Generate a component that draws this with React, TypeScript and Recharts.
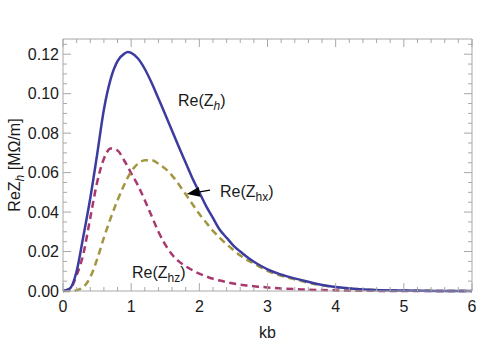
import { LineChart, Line, XAxis, YAxis, ReferenceDot, ReferenceLine } from "recharts";

// kb grid and the three curves
const kb = [
  0, 0.1, 0.2, 0.3, 0.4, 0.5, 0.6, 0.7, 0.8, 0.9, 0.95, 1.0, 1.1, 1.2, 1.3, 1.4, 1.5, 1.6, 1.7, 1.8, 1.9,
  2.0, 2.1, 2.2, 2.3, 2.4, 2.5, 2.6, 2.7, 2.8, 2.9, 3.0, 3.25, 3.5, 3.75, 4.0, 4.5, 5.0, 5.5, 6.0,
];
const reZh = [
  0, 0.0012, 0.01, 0.028, 0.047, 0.069, 0.092, 0.1075, 0.1165, 0.1203, 0.1211, 0.1207, 0.1178, 0.1125,
  0.1055, 0.0975, 0.0895, 0.0812, 0.073, 0.065, 0.057, 0.05, 0.043, 0.037, 0.031, 0.027, 0.023, 0.02,
  0.0172, 0.0148, 0.0128, 0.011, 0.0078, 0.0055, 0.0034, 0.002, 0.0006, 0.0002, 0.00005, 0,
];
const reZhx = [
  0, 0, 0.0004, 0.002, 0.007, 0.016, 0.027, 0.037, 0.046, 0.054, 0.0575, 0.0605, 0.0645, 0.0662, 0.0663,
  0.0645, 0.062, 0.0585, 0.054, 0.049, 0.044, 0.039, 0.0347, 0.0305, 0.027, 0.0237, 0.0208, 0.018, 0.0158,
  0.014, 0.012, 0.0102, 0.0072, 0.005, 0.0032, 0.0019, 0.0006, 0.0002, 0.00005, 0,
];
const reZhz = [
  0, 0.001, 0.008, 0.019, 0.037, 0.055, 0.067, 0.0722, 0.0712, 0.066, 0.063, 0.0596, 0.0535, 0.046, 0.038,
  0.03, 0.0235, 0.0185, 0.015, 0.0125, 0.0105, 0.0088, 0.0074, 0.0062, 0.0053, 0.0045, 0.0038, 0.0032,
  0.0028, 0.0024, 0.0021, 0.0018, 0.0012, 0.0008, 0.0005, 0.0003, 0.0001, 0, 0, 0,
];

const xMajorTicks = [0, 1, 2, 3, 4, 5, 6];
const xMinorTicks = [
  0, 0.2, 0.4, 0.6, 0.8, 1, 1.2, 1.4, 1.6, 1.8, 2, 2.2, 2.4, 2.6, 2.8, 3, 3.2, 3.4, 3.6, 3.8, 4, 4.2, 4.4,
  4.6, 4.8, 5, 5.2, 5.4, 5.6, 5.8, 6,
];
const yMajorTicks = [0, 0.02, 0.04, 0.06, 0.08, 0.1, 0.12];
const yMinorTicks = [
  0, 0.005, 0.01, 0.015, 0.02, 0.025, 0.03, 0.035, 0.04, 0.045, 0.05, 0.055, 0.06, 0.065, 0.07, 0.075,
  0.08, 0.085, 0.09, 0.095, 0.1, 0.105, 0.11, 0.115, 0.12, 0.125,
];

const data = kb.map((k, i) => ({ kb: k, zh: reZh[i], zhx: reZhx[i], zhz: reZhz[i] }));

const FONT = "'Liberation Sans', Arial, sans-serif";
const FRAME = "#a8a8a8";
const TEXT = "#1a1a1a";

const isMajor = (v: number, majors: number[]) => majors.some((m) => Math.abs(m - v) < 1e-9);

function BottomTick({ x, y, payload }: any) {
  const major = isMajor(payload.value, xMajorTicks);
  return (
    <g>
      <line x1={x} x2={x} y1={y} y2={y - (major ? 8 : 4)} stroke={FRAME} />
      {major && (
        <text x={x} y={y + 21} textAnchor="middle" fontSize={16} fill={TEXT} fontFamily={FONT}>
          {payload.value}
        </text>
      )}
    </g>
  );
}

function TopTick({ x, y, payload }: any) {
  const major = isMajor(payload.value, xMajorTicks);
  return <line x1={x} x2={x} y1={y} y2={y + (major ? 8 : 4)} stroke={FRAME} />;
}

function LeftTick({ x, y, payload }: any) {
  const major = isMajor(payload.value, yMajorTicks);
  return (
    <g>
      <line x1={x} x2={x + (major ? 8 : 4)} y1={y} y2={y} stroke={FRAME} />
      {major && (
        <text x={x - 4} y={y} dy="0.36em" textAnchor="end" fontSize={16} fill={TEXT} fontFamily={FONT}>
          {payload.value.toFixed(2)}
        </text>
      )}
    </g>
  );
}

function RightTick({ x, y, payload }: any) {
  const major = isMajor(payload.value, yMajorTicks);
  return <line x1={x} x2={x - (major ? 8 : 4)} y1={y} y2={y} stroke={FRAME} />;
}

function curveLabel(name: string, sub: string, italic: boolean) {
  return (p: any) => (
    <text x={p.cx} y={p.cy} fontSize={16} fill={TEXT} fontFamily={FONT}>
      {name}
      <tspan fontSize={12} dy={4} fontStyle={italic ? "italic" : "normal"}>
        {sub}
      </tspan>
      <tspan dy={-4}>)</tspan>
    </text>
  );
}

function Arrow(p: any) {
  const { x1, y1, x2, y2 } = p;
  const dx = x2 - x1;
  const dy = y2 - y1;
  const len = Math.hypot(dx, dy) || 1;
  const ux = dx / len;
  const uy = dy / len;
  const bx = x2 - ux * 13;
  const by = y2 - uy * 13;
  const w = 5;
  return (
    <g>
      <line x1={x1} y1={y1} x2={bx} y2={by} stroke="#000" strokeWidth={1.3} />
      <polygon
        points={`${x2},${y2} ${bx - uy * w},${by + ux * w} ${bx + uy * w},${by - ux * w}`}
        fill="#000"
      />
    </g>
  );
}

export default function App() {
  return (
    <div style={{ position: "absolute", left: 0, top: 0, background: "#fff" }}>
      <LineChart
        width={479}
        height={360}
        data={data}
        margin={{ top: 38, right: 6, bottom: 0, left: 0 }}
        style={{ fontFamily: FONT }}
      >
        <XAxis
          dataKey="kb"
          type="number"
          domain={[0, 6]}
          ticks={xMinorTicks}
          interval={0}
          height={69}
          tickSize={0}
          tickMargin={0}
          tickLine={false}
          axisLine={{ stroke: FRAME }}
          tick={<BottomTick />}
          label={{
            content: (p: any) => (
              <text
                x={p.viewBox.x + p.viewBox.width / 2}
                y={p.viewBox.y + 47}
                textAnchor="middle"
                fontSize={16}
                fill={TEXT}
                fontFamily={FONT}
              >
                kb
              </text>
            ),
          }}
        />
        <XAxis
          xAxisId="top"
          orientation="top"
          dataKey="kb"
          type="number"
          domain={[0, 6]}
          ticks={xMinorTicks}
          interval={0}
          height={1}
          tickSize={0}
          tickMargin={0}
          tickLine={false}
          axisLine={{ stroke: FRAME }}
          tick={<TopTick />}
        />
        <YAxis
          type="number"
          domain={[0, 0.1277]}
          ticks={yMinorTicks}
          interval={0}
          width={63}
          tickSize={0}
          tickMargin={0}
          tickLine={false}
          axisLine={{ stroke: FRAME }}
          tick={<LeftTick />}
          label={{
            content: (p: any) => {
              const cx = 14;
              const cy = p.viewBox.y + p.viewBox.height / 2;
              return (
                <text
                  x={cx}
                  y={cy}
                  transform={`rotate(-90 ${cx} ${cy})`}
                  textAnchor="middle"
                  dy="0.36em"
                  fontSize={16}
                  fill={TEXT}
                  fontFamily={FONT}
                >
                  ReZ
                  <tspan fontSize={12} dy={4} fontStyle="italic">
                    h
                  </tspan>
                  <tspan dy={-4}> [MΩ/m]</tspan>
                </text>
              );
            },
          }}
        />
        <YAxis
          yAxisId="right"
          orientation="right"
          type="number"
          domain={[0, 0.1277]}
          ticks={yMinorTicks}
          interval={0}
          width={1}
          tickSize={0}
          tickMargin={0}
          tickLine={false}
          axisLine={{ stroke: FRAME }}
          tick={<RightTick />}
        />
        {/* invisible series so the top/right frame axes get drawn */}
        <Line
          xAxisId="top"
          yAxisId="right"
          dataKey="zh"
          stroke="none"
          dot={false}
          activeDot={false}
          isAnimationActive={false}
        />
        <Line
          type="monotone"
          dataKey="zhz"
          stroke="#a8386e"
          strokeWidth={2.5}
          strokeDasharray="7 4.5"
          dot={false}
          isAnimationActive={false}
        />
        <Line
          type="monotone"
          dataKey="zhx"
          stroke="#a39640"
          strokeWidth={2.5}
          strokeDasharray="7 4.5"
          dot={false}
          isAnimationActive={false}
        />
        <Line
          type="monotone"
          dataKey="zh"
          stroke="#3c3ca0"
          strokeWidth={2.5}
          dot={false}
          isAnimationActive={false}
        />
        <ReferenceLine
          segment={[
            { x: 2.157, y: 0.0511 },
            { x: 1.815, y: 0.0491 },
          ]}
          shape={Arrow}
        />
        <ReferenceDot x={1.687} y={0.0937} r={0} shape={curveLabel("Re(Z", "h", true)} />
        <ReferenceDot x={2.303} y={0.0476} r={0} shape={curveLabel("Re(Z", "hx", false)} />
        <ReferenceDot x={1.012} y={0.0066} r={0} shape={curveLabel("Re(Z", "hz", false)} />
      </LineChart>
    </div>
  );
}
